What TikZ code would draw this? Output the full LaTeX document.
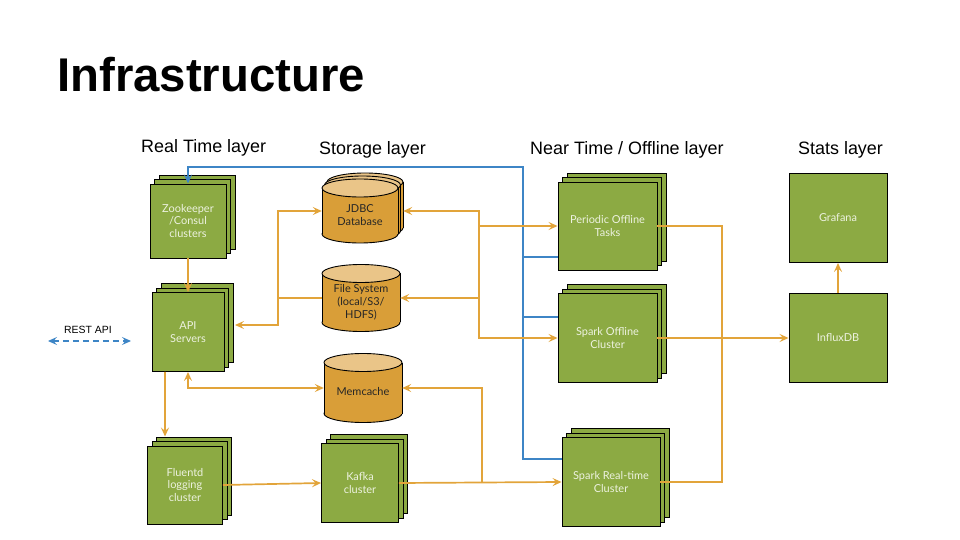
\documentclass[tikz,border=0pt]{standalone}
\usepackage{fontspec}
\setmainfont{Liberation Sans}
\newfontfamily\latofont{Lato}
\usepackage{tikz}
\usetikzlibrary{positioning}
\usetikzlibrary{arrows.meta}
\usetikzlibrary{shadows}
\usepackage{xcolor}
\definecolor{boxgreen}{HTML}{8CAA43}
\definecolor{boxtext}{HTML}{EDF2E0}
\definecolor{cylbody}{HTML}{D99E38}
\definecolor{cyltop}{HTML}{EAC588}
\definecolor{flowcol}{HTML}{E2A43A}
\definecolor{synccol}{HTML}{3D85C6}

\tikzset{
  greenbox/.style={draw=black, line width=0.9bp, fill=boxgreen, text=boxtext, align=center,
    font=\latofont\fontsize{11}{13}\selectfont, inner sep=0pt},
  stackbox/.style={greenbox, double copy shadow={shadow xshift=4.5bp, shadow yshift=4.5bp}},
  storetext/.style={text=black!85, align=center, font=\latofont\fontsize{11}{13}\selectfont, inner sep=0pt},
  tip/.style={-{Stealth[length=9bp,width=8bp,inset=3.5bp]}},
  flow/.style={draw=flowcol, line width=1.7bp, tip},
  flowboth/.style={draw=flowcol, line width=1.7bp, {Stealth[length=9bp,width=8bp,inset=3.5bp]}-{Stealth[length=9bp,width=8bp,inset=3.5bp]}},
  flowline/.style={draw=flowcol, line width=1.7bp},
  sync/.style={draw=synccol, line width=1.7bp, tip},
  syncline/.style={draw=synccol, line width=1.7bp},
  layer/.style={font=\fontsize{18}{21}\selectfont, inner sep=0pt, anchor=base west}
}

% storage drum: name, x, y, width, height, text
\newcommand{\drum}[6]{%
  \fill[cylbody, draw=black, line width=0.9bp] (#2,{#3+#5/2-9}) ellipse [x radius=#4/2, y radius=9];
  \fill[cylbody] ({#2-#4/2},{#3-#5/2+9}) rectangle ({#2+#4/2},{#3+#5/2-9});
  \draw[line width=0.9bp] ({#2-#4/2},{#3-#5/2+9}) -- ({#2-#4/2},{#3+#5/2-9});
  \draw[line width=0.9bp] ({#2+#4/2},{#3-#5/2+9}) -- ({#2+#4/2},{#3+#5/2-9});
  \fill[cyltop, draw=black, line width=0.9bp] (#2,{#3-#5/2+9}) ellipse [x radius=#4/2, y radius=9];
  \node[storetext, minimum width=#4bp, minimum height=#5bp] (#1) at (#2,#3) {};
  \node[storetext] (#1text) at (#2,{#3+4}) {#6};
}

\begin{document}
\begin{tikzpicture}[x=1bp,y=-1bp]

\useasboundingbox (0,0) rectangle (960,540);

%title and layer names
\node[font=\bfseries\fontsize{47.5}{52}\selectfont, inner sep=0pt, anchor=base west] (title) at (57,92) {Infrastructure};
\foreach \x/\y/\nm/\t in {141/153/rtlayer/Real Time layer, 319/155/stlayer/Storage layer, 530/155/ntlayer/{Near Time / Offline layer}, 798/155/sslayer/Stats layer}
  \node[layer] (\nm) at (\x,\y) {\t};

%Real time layer
\node[stackbox, minimum width=76bp, minimum height=74bp] (zk) at (188,221) {Zookeeper\\/Consul\\clusters};
\node[stackbox, minimum width=72bp, minimum height=79bp] (api) at (188,332) {API\\Servers};
\node[stackbox, minimum width=75bp, minimum height=78bp] (fluent) at (185,485) {Fluentd\\logging\\cluster};

%Storage layer
\drum{jdbc3}{365}{205}{76}{64}{}
\drum{jdbc2}{362.5}{208}{76}{64}{}
\drum{jdbc}{360}{211}{76}{64}{JDBC\\Database}
\drum{fs}{361}{298}{78}{67}{File System\\(local/S3/\\HDFS)}
\drum{memcache}{363}{388}{78}{69}{Memcache}
\node[stackbox, minimum width=77bp, minimum height=79bp] (kafka) at (360,483) {Kafka\\cluster};

%Near time / offline layer
\node[stackbox, minimum width=99bp, minimum height=88bp] (periodic) at (607.5,226) {Periodic Offline\\Tasks};
\node[stackbox, minimum width=99bp, minimum height=89bp] (sparkoff) at (607.5,338) {Spark Offline\\Cluster};
\node[stackbox, minimum width=98bp, minimum height=89bp] (sparkrt) at (611,482) {Spark Real-time\\Cluster};

%Stats layer
\node[greenbox, minimum width=98bp, minimum height=89bp] (grafana) at (838,218) {Grafana};
\node[greenbox, minimum width=98bp, minimum height=89bp] (influx) at (838,338) {InfluxDB};

%REST API
\node[font=\fontsize{10.5}{12}\selectfont, inner sep=0pt] (rest) at (88,330) {REST API};
\coordinate (restL) at (48,341);
\coordinate (restR) at (131,341);
\draw[draw=synccol, line width=1.7bp, dash pattern=on 6bp off 4bp, {Stealth[length=9bp,width=8bp,inset=3.5bp]}-{Stealth[length=9bp,width=8bp,inset=3.5bp]}] (restL) -- (restR);

%bus coordinates
\coordinate (busL) at (278,298);
\coordinate (busR) at (479,298);
\coordinate (busK) at (482,483);
\coordinate (busS) at (722,338);
\coordinate (busB) at (523,167);
\coordinate (apiR) at (235,325);

%sync lines
\draw[sync] ([yshift=23bp]sparkrt.west) -| (busB) -| (zk.north);
\coordinate (pB) at ([yshift=-31bp]periodic.west);
\coordinate (sB) at ([yshift=21bp]sparkoff.west);
\draw[syncline] (pB) -- (pB -| busB);
\draw[syncline] (sB) -- (sB -| busB);

%data flows, left
\draw[flow] (zk.south) -- (api.north);
\draw[flowboth] (apiR) -| (busL |- jdbc.west) -- (jdbc.west);
\draw[flowline] (fs.west) -- (fs.west -| busL);
\draw[flowboth] (api.south) |- (memcache.west);
\draw[flow] ([xshift=-23bp]api.south) -- ([xshift=-20bp,yshift=9bp]fluent.north);
\draw[flow] (fluent.east) -- (kafka.west);

%data flows, middle
\draw[flow] (kafka.east) -- (sparkrt.west);
\draw[flow] (busK) |- (memcache.east);
\draw[flowboth] (jdbc3.east |- jdbc.east) -| (busR |- sparkoff.west) -- (sparkoff.west);
\draw[flow] (busR |- periodic.west) -- (periodic.west);
\draw[flow] (busR |- fs.east) -- (fs.east);

%data flows, right
\draw[flowline] (periodic.east) -| (busS |- sparkrt.east) -- (sparkrt.east);
\draw[flow] (sparkoff.east) -- (influx.west);
\draw[flow] (influx.north) -- (grafana.south);

\end{tikzpicture}
\end{document}
